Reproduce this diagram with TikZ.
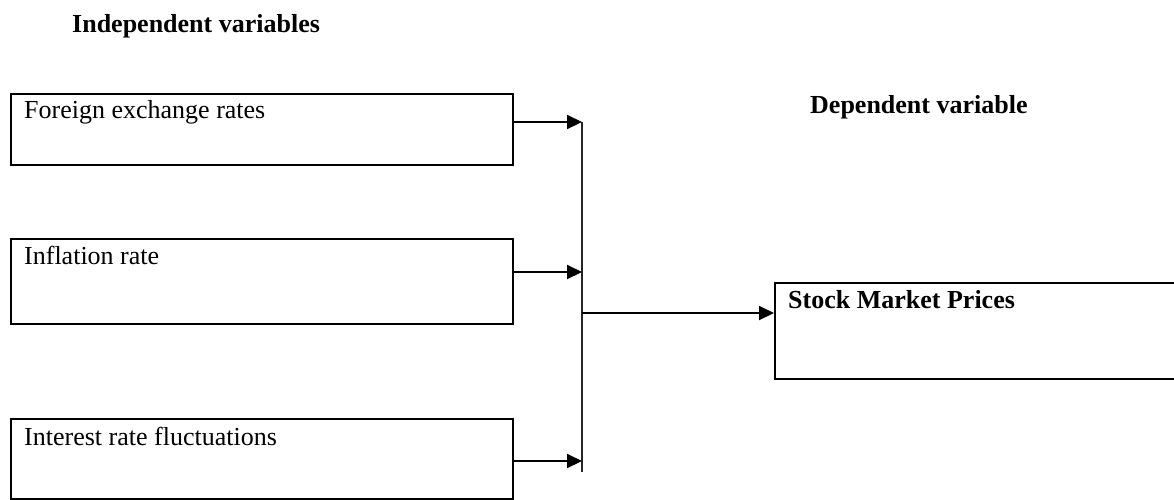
\documentclass[tikz,border=0pt]{standalone}
\usepackage{fontspec}
\setmainfont{Liberation Serif}
\usetikzlibrary{arrows.meta}
\begin{document}
\begin{tikzpicture}[x=1pt,y=1pt,
  varbox/.style={draw=black, line width=2.2pt, rectangle, inner sep=0pt, anchor=north west},
  lbl/.style={inner sep=0pt, anchor=base west, font=\fontsize{26}{30}\selectfont},
  head/.style={inner sep=0pt, anchor=base west, font=\fontsize{26}{30}\selectfont\bfseries},
  feed/.style={line width=2pt, -{Triangle[length=15pt,width=14pt]}},
  bus/.style={line width=2pt, draw=black!85}]
\clip (0,0) rectangle (1174,-499);
\useasboundingbox (0,0) rectangle (1174,-499);

% headings
\node[head] (indep) at (72,-32) {Independent variables};
\node[head] (dep) at (810,-113) {Dependent variable};

% independent variable boxes
\node[varbox, minimum width=502pt, minimum height=71pt] (fx) at (10,-93) {};
\node[lbl] (fxl) at ([xshift=14pt,yshift=-25pt]fx.north west) {Foreign exchange rates};

\node[varbox, minimum width=502pt, minimum height=85pt] (inf) at (10,-238) {};
\node[lbl] (infl) at ([xshift=14pt,yshift=-26pt]inf.north west) {Inflation rate};

\node[varbox, minimum width=502pt, minimum height=80pt] (ir) at (10,-418) {};
\node[lbl] (irl) at ([xshift=14pt,yshift=-27pt]ir.north west) {Interest rate fluctuations};

% dependent variable box
\node[varbox, minimum width=420pt, minimum height=96pt] (smp) at (774,-282) {};
\node[head] (smpl) at ([xshift=14pt,yshift=-26pt]smp.north west) {Stock Market Prices};

% collecting line
\coordinate (b1) at (582,-122);
\coordinate (b2) at (582,-272);
\coordinate (b3) at (582,-461);
\coordinate (bm) at (582,-313);
\coordinate (bend) at (582,-472);
\draw[bus] (b1) -- (bend);

% arrows into the collecting line
\draw[feed] (fx.east |- b1) -- (b1);
\draw[feed] (inf.east |- b2) -- (b2);
\draw[feed] (ir.east |- b3) -- (b3);

% arrow to the dependent variable
\draw[feed] (bm) -- (smp.west |- bm);
\end{tikzpicture}
\end{document}
